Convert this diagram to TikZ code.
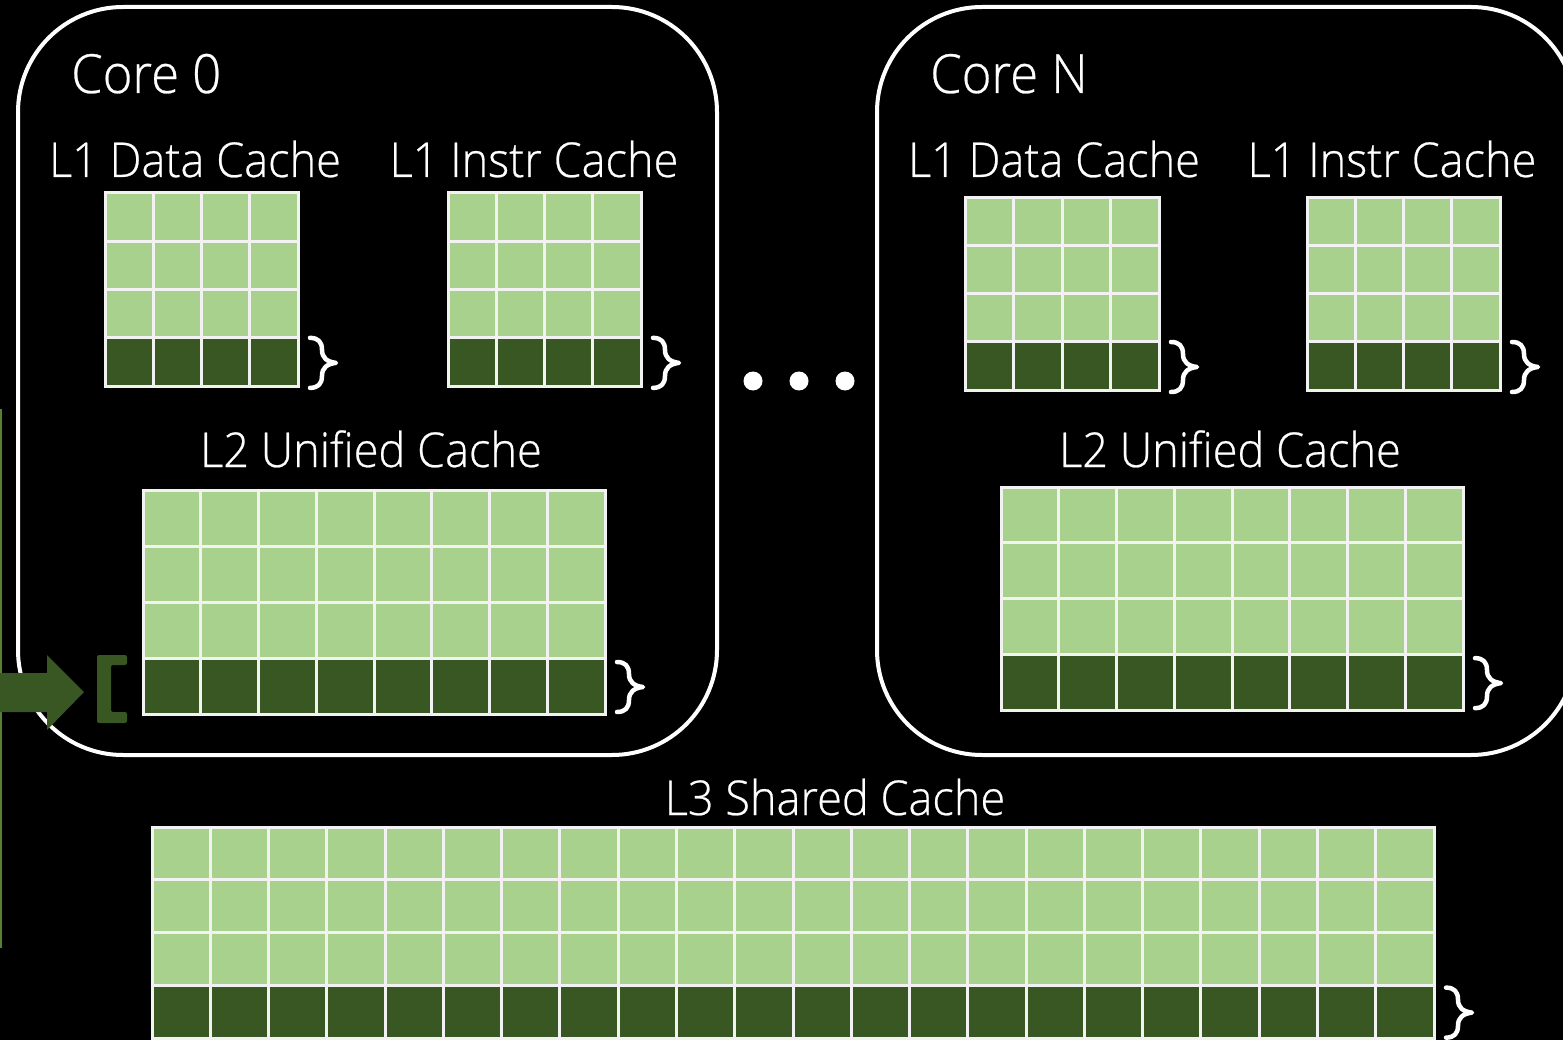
\documentclass[tikz,border=0pt]{standalone}
\usepackage{fontspec}
\setmainfont{Open Sans Light}[FakeStretch=0.94, FakeBold=0.5]
\usetikzlibrary{fit,calc}
\definecolor{cellgreen}{HTML}{A9D18E}
\definecolor{rowgreen}{HTML}{385723}
\definecolor{edgegreen}{HTML}{548235}
\definecolor{gridwhite}{HTML}{F2F2F2}

\tikzset{
  gridline/.style={draw=gridwhite, line width=3pt},
  corebox/.style={draw=white, line width=4pt, rounded corners=105pt, inner sep=0pt},
  coretitle/.style={text=white, inner sep=0pt, anchor=base west, font=\fontsize{54}{60}\selectfont},
  cachetitle/.style={text=white, inner sep=0pt, anchor=base, font=\fontsize{48}{56}\selectfont},
  bracestroke/.style={draw=white, line width=4.5pt, line cap=round, line join=round},
  dot/.style={circle, fill=white, inner sep=0pt, minimum size=19pt},
  cbrace/.pic={
    \draw[bracestroke] (0,-25) .. controls (8,-25) and (12,-21) .. (12,-13)
      .. controls (12,-5) and (17,-1) .. (26,0)
      .. controls (17,1) and (12,5) .. (12,13)
      .. controls (12,21) and (8,25) .. (0,25);
  }
}

% #1 name, (#2,#3) top-left, (#4,#5) bottom-right, #6 columns, #7 rows
\newcommand\cachearray[7]{%
  \fill[cellgreen] (#2,#3) rectangle (#4,#5);
  \pgfmathsetmacro\cellw{(#4-#2)/#6}
  \pgfmathsetmacro\cellh{(#5-#3)/#7}
  \pgfmathsetmacro\rowtop{#5-\cellh}
  \fill[rowgreen] (#2,\rowtop) rectangle (#4,#5);
  \foreach \i in {1,...,#6}{\draw[gridline] ({#2+\cellw*(\i-1)},#3) -- ({#2+\cellw*(\i-1)},#5);}
  \foreach \j in {1,...,#7}{\draw[gridline] (#2,{#3+\cellh*(\j-1)}) -- (#4,{#3+\cellh*(\j-1)});}
  \draw[gridline] (#2,#3) rectangle (#4,#5);
  \path (#2,#3) coordinate (#1-nw) (#4,#5) coordinate (#1-se)
        (#4,{#5-\cellh/2}) coordinate (#1-row);
  \node[fit=(#1-nw)(#1-se), inner sep=0pt] (#1) {};
  \pic at ($(#1-row)+(12,1)$) {cbrace};
}

\begin{document}
\begin{tikzpicture}[x=1pt, y=-1pt]
  \fill[black] (0,0) rectangle (1563,1040);
  \useasboundingbox (0,0) rectangle (1563,1040);

  % core outlines
  \node[corebox, minimum width=699pt, minimum height=748pt] (core0) at (367.5,381) {};
  \node[corebox, minimum width=699pt, minimum height=748pt] (coreN) at (1226.5,381) {};
  \node[coretitle] (core0-title) at (71,93) {Core 0};
  \node[coretitle] (coreN-title) at (930,93) {Core N};

  % core 0 caches
  \node[cachetitle] (l1d0-title) at (195,177) {L1 Data Cache};
  \node[cachetitle] (l1i0-title) at (534,177) {L1 Instr Cache};
  \cachearray{l1d0}{105}{193}{298}{386}{4}{4}
  \cachearray{l1i0}{448}{193}{641}{386}{4}{4}
  \node[cachetitle] (l20-title) at (371,467) {L2 Unified Cache};
  \cachearray{l20}{143}{490}{605}{714}{8}{4}

  % core N caches
  \node[cachetitle] (l1dN-title) at (1054,177) {L1 Data Cache};
  \node[cachetitle] (l1iN-title) at (1392,177) {L1 Instr Cache};
  \cachearray{l1dN}{965}{198}{1159}{390}{4}{4}
  \cachearray{l1iN}{1307}{198}{1500}{390}{4}{4}
  \node[cachetitle] (l2N-title) at (1230,467) {L2 Unified Cache};
  \cachearray{l2N}{1001}{487}{1463}{710}{8}{4}

  % ellipsis between cores
  \node[dot] (dot1) at (753,381) {};
  \node[dot] (dot2) at (799,381) {};
  \node[dot] (dot3) at (845,381) {};

  % shared L3
  \node[cachetitle] (l3-title) at (835,815) {L3 Shared Cache};
  \cachearray{l3}{152}{827}{1434}{1038}{22}{4}

  % memory frame on the left and the fill arrow into the L2 line
  \draw[edgegreen, line width=2pt] (-20,410) rectangle (1.3,947);
  \coordinate (mem-out) at (-5,692);
  \coordinate (fill-tip) at (84,692);
  \fill[rowgreen] ($(mem-out)+(0,-19)$) -- ($(fill-tip)+(-37,-19)$) -- ($(fill-tip)+(-37,-37)$)
    -- (fill-tip) -- ($(fill-tip)+(-37,38)$) -- ($(fill-tip)+(-37,20)$) -- ($(mem-out)+(0,20)$) -- cycle;
  \fill[rowgreen, rounded corners=2pt] (97,655) -- (127,655) -- (127,665) -- (111,665)
    -- (111,712) -- (127,712) -- (127,723) -- (97,723) -- cycle;
\end{tikzpicture}
\end{document}
